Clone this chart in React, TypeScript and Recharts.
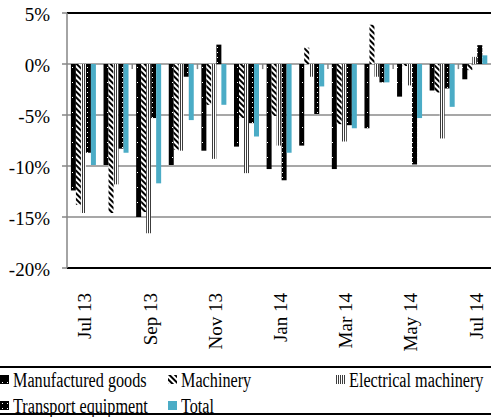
import { BarChart, Bar, XAxis, YAxis, CartesianGrid, ReferenceLine } from "recharts";

const months = [
  "Jul 13", "Aug 13", "Sep 13", "Oct 13", "Nov 13", "Dec 13", "Jan 14",
  "Feb 14", "Mar 14", "Apr 14", "May 14", "Jun 14", "Jul 14",
];
const manufactured = [-12.4, -9.9, -15.0, -9.9, -8.5, -8.1, -10.3, -8.0, -10.3, -6.3, -3.2, -2.6, -1.5];
const machinery = [-13.8, -14.6, -14.5, -8.4, -4.0, -5.3, -5.1, 1.6, -5.9, 3.85, -0.2, -2.8, -0.6];
const electrical = [-14.6, -11.8, -16.6, -8.5, -9.3, -10.7, -8.0, -1.25, -7.6, -1.25, -2.1, -7.3, 0.7];
const transport = [-8.7, -8.3, -5.3, -1.25, 1.9, -5.8, -11.4, -4.9, -6.0, -1.8, -9.85, -2.4, 1.85];
const total = [-9.9, -8.7, -11.7, -5.5, -4.0, -7.1, -8.7, -2.2, -6.3, -1.8, -5.3, -4.2, 0.85];

const yTicks = [5, 0, -5, -10, -15, -20];
// category boundaries that carry a small tick mark on the zero axis
const markAfter = ["Aug 13", "Oct 13", "Dec 13", "Feb 14", "Apr 14", "Jun 14"];

const series = [
  { key: "manufactured", name: "Manufactured goods", fill: "url(#pat-mfg)" },
  { key: "machinery", name: "Machinery", fill: "url(#pat-mach)" },
  { key: "electrical", name: "Electrical machinery", fill: "url(#pat-elec)" },
  { key: "transport", name: "Transport equipment", fill: "url(#pat-trans)" },
  { key: "total", name: "Total", fill: "#4BACC6" },
];

const data = months.map((m, i) => ({
  month: m,
  manufactured: manufactured[i],
  machinery: machinery[i],
  electrical: electrical[i],
  transport: transport[i],
  total: total[i],
}));

const serif = "Liberation Serif, Tinos, DejaVu Serif, serif";

function Patterns() {
  return (
    <svg width={0} height={0} style={{ position: "absolute" }}>
      <defs>
        <pattern id="pat-mfg" width={5} height={15} patternUnits="userSpaceOnUse">
          <rect width={5} height={15} fill="#000" />
          <rect x={2} y={7} width={1} height={1} fill="#fff" />
        </pattern>
        <pattern id="pat-mach" width={4} height={4} patternUnits="userSpaceOnUse" patternTransform="rotate(-45)">
          <rect width={4} height={4} fill="#fff" />
          <rect width={2} height={4} fill="#000" />
        </pattern>
        <pattern id="pat-elec" width={2} height={2} patternUnits="userSpaceOnUse">
          <rect width={2} height={2} fill="#fff" />
          <rect width={1} height={2} fill="#3c3c3c" />
        </pattern>
        <pattern id="pat-trans" width={5} height={5} patternUnits="userSpaceOnUse">
          <rect width={5} height={5} fill="#000" />
          <rect x={2} y={2} width={1} height={1} fill="#fff" />
        </pattern>
      </defs>
    </svg>
  );
}

function XTick({ x, y, payload }: any) {
  return (
    <text
      x={x}
      y={y}
      dy={8}
      transform={`rotate(-90 ${x} ${y})`}
      textAnchor="end"
      style={{ fontFamily: serif, fontSize: 19 }}
      fill="#000"
    >
      {payload.value}
    </text>
  );
}

function YTick({ x, y, payload }: any) {
  return (
    <text x={x} y={y} dy={7.5} textAnchor="end" style={{ fontFamily: serif, fontSize: 19 }} fill="#000">
      {`${payload.value}%`}
    </text>
  );
}

const legendPos = [
  { left: 0, top: 0 },
  { left: 168, top: 0 },
  { left: 336, top: 0 },
  { left: 0, top: 26 },
  { left: 168, top: 26 },
];

function ChartLegend() {
  return (
    <div
      style={{
        position: "relative",
        width: 491,
        height: 49,
        boxSizing: "border-box",
        borderTop: "2px solid #000",
        borderBottom: "2px solid #000",
        fontFamily: serif,
      }}
    >
      {series.map((s, i) => (
        <div key={s.key} style={{ position: "absolute", left: legendPos[i].left, top: legendPos[i].top }}>
          <svg width={9} height={9} style={{ position: "absolute", left: 0, top: 7 }}>
            <rect width={9} height={9} fill={s.fill} />
          </svg>
          <span
            style={{
              position: "absolute",
              left: 13,
              top: 2,
              fontSize: 20,
              lineHeight: "20px",
              whiteSpace: "nowrap",
              display: "inline-block",
              transform: "scaleX(0.81)",
              transformOrigin: "left",
              color: "#000",
            }}
          >
            {s.name}
          </span>
        </div>
      ))}
    </div>
  );
}

export default function App() {
  return (
    <div style={{ position: "absolute", left: 0, top: 0, width: 491, height: 417, background: "#fff" }}>
      <Patterns />
      <BarChart
        width={491}
        height={366}
        data={data}
        margin={{ top: 13, right: 0, left: 0, bottom: 0 }}
        barCategoryGap="12%"
        barGap={0}
      >
        <CartesianGrid vertical={false} stroke="#8a8a8a" strokeWidth={1.5} />
        <XAxis
          dataKey="month"
          interval={1}
          tickLine={false}
          axisLine={false}
          tickSize={0}
          tickMargin={25}
          height={98}
          tick={<XTick />}
        />
        <YAxis
          domain={[-20, 5]}
          ticks={yTicks}
          width={67}
          axisLine={{ stroke: "#868686", strokeWidth: 1.5 }}
          tickLine={{ stroke: "#868686", strokeWidth: 1.5 }}
          tickSize={5}
          tickMargin={12}
          tick={<YTick />}
        />
        {series.map((s) => (
          <Bar key={s.key} dataKey={s.key} name={s.name} fill={s.fill} isAnimationActive={false} />
        ))}
        <ReferenceLine y={5} stroke="#000" strokeWidth={2} />
        <ReferenceLine y={-20} stroke="#000" strokeWidth={2} />
        {markAfter.map((m) => (
          <ReferenceLine
            key={m}
            segment={[{ x: m, y: 0 }, { x: m, y: -0.5 }]}
            position="end"
            stroke="#868686"
            strokeWidth={1.5}
          />
        ))}
      </BarChart>
      <ChartLegend />
    </div>
  );
}
